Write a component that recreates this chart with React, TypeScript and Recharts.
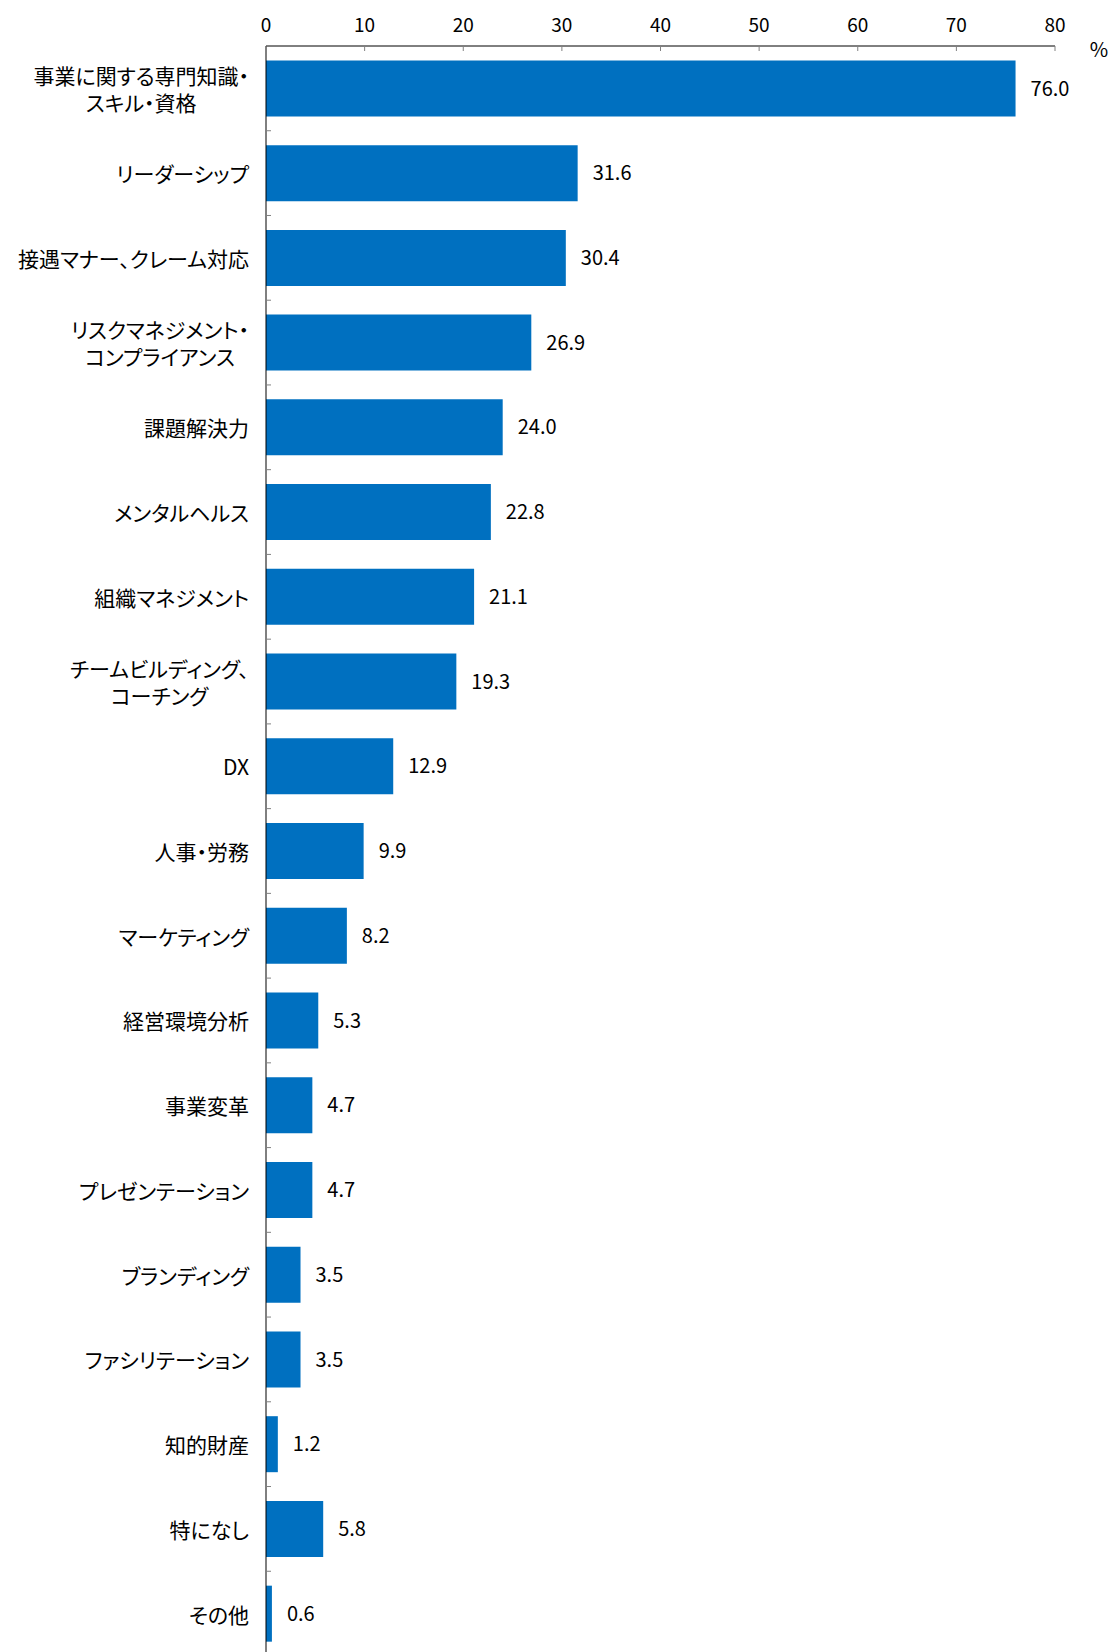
import { useLayoutEffect, useRef, useState } from "react"
import { Bar, BarChart, LabelList, XAxis, YAxis } from "recharts"

const categories = [
  "事業に関する専門知識・\nスキル・資格",
  "リーダーシップ",
  "接遇マナー、クレーム対応",
  "リスクマネジメント・\nコンプライアンス",
  "課題解決力",
  "メンタルヘルス",
  "組織マネジメント",
  "チームビルディング、\nコーチング",
  "DX",
  "人事・労務",
  "マーケティング",
  "経営環境分析",
  "事業変革",
  "プレゼンテーション",
  "ブランディング",
  "ファシリテーション",
  "知的財産",
  "特になし",
  "その他",
]

const values = [76.0, 31.6, 30.4, 26.9, 24.0, 22.8, 21.1, 19.3, 12.9, 9.9, 8.2, 5.3, 4.7, 4.7, 3.5, 3.5, 1.2, 5.8, 0.6]

const xTicks = [0, 10, 20, 30, 40, 50, 60, 70, 80]

const data = categories.map((name, i) => ({ name, value: values[i] }))

const FONT = '"Noto Sans CJK JP", "Noto Sans", sans-serif'
const LABEL_SIZE = 21
const textStyle = { fontFeatureSettings: '"palt"' }

function CategoryTick(props: any) {
  const { x, y, payload } = props
  const lines: string[] = String(payload.value).split("\n")
  const half = payload.offset ?? 42
  const lineGap = 27
  const startY = y - ((lines.length - 1) * lineGap) / 2
  const firstRef = useRef<SVGTextElement>(null)
  const [firstW, setFirstW] = useState(lines[0].length * LABEL_SIZE)

  // multi-line labels are centred on the width of the first line
  useLayoutEffect(() => {
    if (lines.length > 1 && firstRef.current) {
      const w = firstRef.current.getComputedTextLength()
      if (Math.abs(w - firstW) > 0.5) setFirstW(w)
    }
  })

  const multi = lines.length > 1
  return (
    <g>
      {lines.map((line, i) => (
        <text
          key={i}
          ref={i === 0 ? firstRef : undefined}
          x={multi ? x - firstW / 2 : x}
          y={startY + i * lineGap}
          textAnchor={multi ? "middle" : "end"}
          dominantBaseline="central"
          fontSize={LABEL_SIZE}
          fontFamily={FONT}
          fill="#000"
          style={textStyle}
        >
          {line}
        </text>
      ))}
      <line x1={x + 17} x2={x + 22} y1={y + half} y2={y + half} stroke="#808080" strokeWidth={1} />
    </g>
  )
}

function ValueTick(props: any) {
  const { x, y, payload } = props
  return (
    <g>
      <text x={x} y={y} textAnchor="middle" dominantBaseline="central" fontSize={19} fontFamily={FONT} fill="#000">
        {payload.value}
      </text>
      <line x1={x} x2={x} y1={y + 23} y2={y + 28} stroke="#808080" strokeWidth={1} />
    </g>
  )
}

export default function App() {
  return (
    <div style={{ position: "absolute", left: 0, top: 0, width: 1117, height: 1652, overflow: "hidden", background: "#fff" }}>
      <BarChart
        layout="vertical"
        width={1117}
        height={1656}
        data={data}
        margin={{ top: 0, right: 62, left: 0, bottom: 0 }}
        barCategoryGap="17%"
      >
        <XAxis
          type="number"
          orientation="top"
          domain={[0, 80]}
          ticks={xTicks}
          height={46}
          axisLine={{ stroke: "#000", strokeWidth: 1 }}
          tickLine={false}
          tickSize={0}
          tickMargin={23}
          tick={<ValueTick />}
          label={{
            content: (p: any) => (
              <text
                x={p.viewBox.x + p.viewBox.width + 44}
                y={p.viewBox.y + p.viewBox.height + 2}
                textAnchor="middle"
                dominantBaseline="central"
                fontSize={20}
                fontFamily={FONT}
                fill="#000"
              >
                %
              </text>
            ),
          }}
        />
        <YAxis
          type="category"
          dataKey="name"
          width={266}
          axisLine={{ stroke: "#000", strokeWidth: 1 }}
          tickLine={false}
          tickSize={0}
          tickMargin={17}
          interval={0}
          tick={<CategoryTick />}
        />
        <Bar dataKey="value" fill="#0070C0" isAnimationActive={false}>
          <LabelList
            dataKey="value"
            position="right"
            offset={15}
            formatter={(v: any) => Number(v).toFixed(1)}
            fontSize={20}
            fontFamily={FONT}
            fill="#000"
          />
        </Bar>
      </BarChart>
    </div>
  )
}
